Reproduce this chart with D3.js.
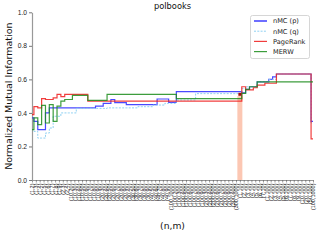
<!DOCTYPE html>
<html>
<head>
<meta charset="utf-8">
<script src="https://cdn.jsdelivr.net/npm/d3@7"></script>
<style>
    body { margin: 0; background: #fff; }
    svg { display: block; font-family: "DejaVu Sans", sans-serif; }
</style>
</head>
<body>
<div id="chart"></div>
<script>
const [svgW, svgH] = [320, 240];
const [plotL, plotR, plotT, plotB] = [32, 313, 12.3, 180];

const tickLabels = [
    "(1,2)", "(1,3)", "(1,4)", "(1,5)", "(1,6)", "(1,7)", "(1,8)", "(1,9)", "(2,3)", "(2,4)",
    "(10,20)", "(10,30)", "(10,40)", "(10,50)", "(10,60)", "(10,70)", "(10,80)", "(10,90)",
    "(20,30)", "(20,40)", "(20,50)", "(20,60)", "(20,70)", "(20,80)", "(20,90)",
    "(30,40)", "(30,50)", "(30,60)", "(30,70)", "(30,80)", "(30,90)",
    "(40,50)", "(40,60)", "(40,70)", "(40,80)", "(40,90)",
    "(100,1000)",
    "(100,200)", "(100,300)", "(100,400)", "(100,500)", "(100,600)", "(100,700)", "(100,800)", "(100,900)",
    "(200,300)", "(200,400)", "(200,500)", "(200,600)", "(200,700)", "(200,800)", "(200,900)", "(300,400)",
    "(300,1000)",
    "(1,10)", "(2,10)", "(3,10)", "(4,10)", "(5,10)", "(6,10)", "(7,10)",
    "(1,100)", "(2,100)", "(3,100)", "(4,100)", "(5,100)", "(6,100)", "(7,100)", "(8,100)", "(9,100)",
    "(10,100)", "(20,100)", "(50,100)", "(100,1000)"
];

const nmcP = [
    0.37, 0.35, 0.30, 0.30, 0.40, 0.43, 0.43, 0.43, 0.43, 0.43,
    0.43, 0.43, 0.43, 0.43, 0.43, 0.43, 0.43, 0.441, 0.441, 0.457,
    0.457, 0.48, 0.461, 0.461, 0.461, 0.449, 0.449, 0.449, 0.449, 0.449,
    0.449, 0.449, 0.449, 0.483, 0.483, 0.483, 0.463, 0.463, 0.527, 0.527,
    0.527, 0.527, 0.527, 0.527, 0.527, 0.527, 0.527, 0.527, 0.527, 0.527,
    0.527, 0.527, 0.527, 0.527, 0.527, 0.52, 0.54, 0.556, 0.556, 0.585,
    0.585, 0.585, 0.60, 0.615, 0.632, 0.632, 0.632, 0.632, 0.632, 0.632,
    0.632, 0.632, 0.632, 0.35
];

const nmcQ = [
    0.30, 0.29, 0.25, 0.25, 0.28, 0.31, 0.38, 0.38, 0.40, 0.40,
    0.40, 0.40, 0.427, 0.427, 0.427, 0.427, 0.427, 0.427, 0.427, 0.427,
    0.43, 0.43, 0.43, 0.43, 0.43, 0.43, 0.43, 0.43, 0.437, 0.437,
    0.437, 0.437, 0.447, 0.447, 0.447, 0.457, 0.457, 0.457, 0.477, 0.477,
    0.477, 0.477, 0.477, 0.515, 0.515, 0.515, 0.515, 0.515, 0.515, 0.515,
    0.515, 0.515, 0.515, 0.515, 0.515, 0.545, 0.556, 0.556, 0.556, 0.585,
    0.585, 0.585, 0.60, 0.60, 0.632, 0.632, 0.632, 0.632, 0.632, 0.632,
    0.632, 0.632, 0.632, 0.34
];

const pageRank = [
    0.39, 0.437, 0.43, 0.485, 0.48, 0.48, 0.49, 0.51, 0.497, 0.511,
    0.511, 0.511, 0.511, 0.511, 0.511, 0.47, 0.47, 0.47, 0.47, 0.47,
    0.47, 0.47, 0.47, 0.47, 0.47, 0.47, 0.47, 0.47, 0.47, 0.47,
    0.47, 0.47, 0.47, 0.47, 0.47, 0.47, 0.47, 0.47, 0.47, 0.47,
    0.47, 0.47, 0.47, 0.47, 0.47, 0.47, 0.47, 0.47, 0.47, 0.47,
    0.47, 0.47, 0.47, 0.47, 0.47, 0.556, 0.537, 0.537, 0.55, 0.566,
    0.566, 0.577, 0.577, 0.577, 0.632, 0.632, 0.632, 0.632, 0.632, 0.632,
    0.632, 0.632, 0.632, 0.245
];

const merw = [
    0.30, 0.37, 0.33, 0.445, 0.34, 0.45, 0.35, 0.44, 0.47, 0.48,
    0.48, 0.505, 0.505, 0.505, 0.505, 0.475, 0.475, 0.475, 0.475, 0.475,
    0.51, 0.51, 0.51, 0.51, 0.51, 0.51, 0.51, 0.51, 0.51, 0.51,
    0.51, 0.51, 0.51, 0.51, 0.51, 0.51, 0.51, 0.51, 0.485, 0.485,
    0.485, 0.485, 0.485, 0.485, 0.485, 0.485, 0.485, 0.485, 0.485, 0.485,
    0.485, 0.485, 0.485, 0.485, 0.485, 0.517, 0.541, 0.556, 0.556, 0.585,
    0.585, 0.585, 0.585, 0.585, 0.585, 0.585, 0.585, 0.585, 0.585, 0.585,
    0.585, 0.585, 0.585, 0.585
];

const seriesNames = ["nMC (p)", "nMC (q)", "PageRank", "MERW"];
const yTicks = [0, 0.2, 0.4, 0.6, 0.8, 1.0];
// highlighted (n,m) and the point marked on it
const bandIndex = 54;
const bandValue = 0.5;
const markValue = 0.511;

const styles = [
    {color: "#2a2aff", width: 1.2, dash: null, opacity: 0.85},
    {color: "#8fd0f2", width: 1, dash: "2,1.3", opacity: 1},
    {color: "#ee1c1c", width: 1.2, dash: null, opacity: 0.85},
    {color: "#1b8c1b", width: 1.2, dash: null, opacity: 0.85}
];

function drawAxes(svg, x, y) {
    var gx = svg.append("g").attr("transform", `translate(0,${plotB})`)
        .call(d3.axisBottom(x).tickValues(d3.range(tickLabels.length))
            .tickFormat(i => tickLabels[i]).tickSize(2.5).tickSizeOuter(0));
    gx.select(".domain").attr("stroke", "#999").attr("stroke-width", 1.2);
    gx.selectAll("line").attr("stroke", "#555").attr("stroke-width", 0.6);
    gx.selectAll("text")
        .attr("transform", "rotate(-90)")
        .attr("text-anchor", "end")
        .attr("x", -3.5).attr("y", 0).attr("dy", "0.35em")
        .attr("font-size", 5.5).attr("fill", "#111");

    var gy = svg.append("g").attr("transform", `translate(${plotL},0)`)
        .call(d3.axisLeft(y).tickValues(yTicks).tickFormat(d3.format(".1f"))
            .tickSize(3).tickPadding(2).tickSizeOuter(0));
    gy.select(".domain").attr("stroke", "#999").attr("stroke-width", 1.2);
    gy.selectAll("line").attr("stroke", "#555").attr("stroke-width", 0.8);
    gy.selectAll("text").attr("font-size", 6.7).attr("fill", "#222");
}

function drawLegend(svg) {
    var lg = svg.append("g");
    lg.append("rect").attr("x", 250.5).attr("y", 15.5).attr("width", 59).attr("height", 43)
        .attr("rx", 2).attr("fill", "#fff").attr("fill-opacity", 0.85)
        .attr("stroke", "#ccc").attr("stroke-width", 0.8);
    seriesNames.forEach(function (name, k) {
        var cy = 21 + k * 10.2;
        var s = styles[k];
        lg.append("line").attr("x1", 254).attr("x2", 267).attr("y1", cy).attr("y2", cy)
            .attr("stroke", s.color).attr("stroke-width", k === 0 ? 1.6 : s.width)
            .attr("stroke-dasharray", s.dash).attr("opacity", s.opacity);
        lg.append("text").attr("x", 273).attr("y", cy).attr("dy", "0.35em")
            .attr("font-size", 6.6).attr("fill", "#222").text(name);
    });
}

function main() {
    var svg = d3.select("#chart").append("svg").attr("width", svgW).attr("height", svgH);
    var x = d3.scaleLinear().domain([0, tickLabels.length - 1]).range([plotL, plotR]);
    var y = d3.scaleLinear().domain([0, 1]).range([plotB, plotT]);
    var step = x(1) - x(0);

    svg.append("rect")
        .attr("x", x(bandIndex) - step * 0.65).attr("width", step * 1.3)
        .attr("y", y(bandValue)).attr("height", y(0) - y(bandValue))
        .attr("fill", "#fcc7b3");

    drawAxes(svg, x, y);

    var line = d3.line().x((d, i) => x(i)).y(d => y(d)).curve(d3.curveStep);
    [nmcP, nmcQ, pageRank, merw].forEach(function (vals, k) {
        var s = styles[k];
        svg.append("path").datum(vals).attr("d", line).attr("fill", "none")
            .attr("stroke", s.color).attr("stroke-width", s.width)
            .attr("stroke-dasharray", s.dash).attr("opacity", s.opacity);
    });

    svg.append("rect")
        .attr("x", x(bandIndex) - 1.5).attr("y", y(markValue) - 1.5)
        .attr("width", 3).attr("height", 3).attr("fill", "#a30d0d");

    drawLegend(svg);

    svg.append("text").attr("x", (plotL + plotR) / 2).attr("y", 9)
        .attr("text-anchor", "middle").attr("font-size", 8.3).attr("fill", "#111").text("polbooks");
    svg.append("text").attr("transform", `translate(9,${(plotT + plotB) / 2}) rotate(-90)`)
        .attr("text-anchor", "middle").attr("dy", "0.35em")
        .attr("font-size", 9.5).attr("fill", "#111").text("Normalized Mutual Information");
    svg.append("text").attr("x", (plotL + plotR) / 2).attr("y", 229)
        .attr("text-anchor", "middle").attr("font-size", 9.2).attr("fill", "#111").text("(n,m)");
}

main();
</script>
</body>
</html>
